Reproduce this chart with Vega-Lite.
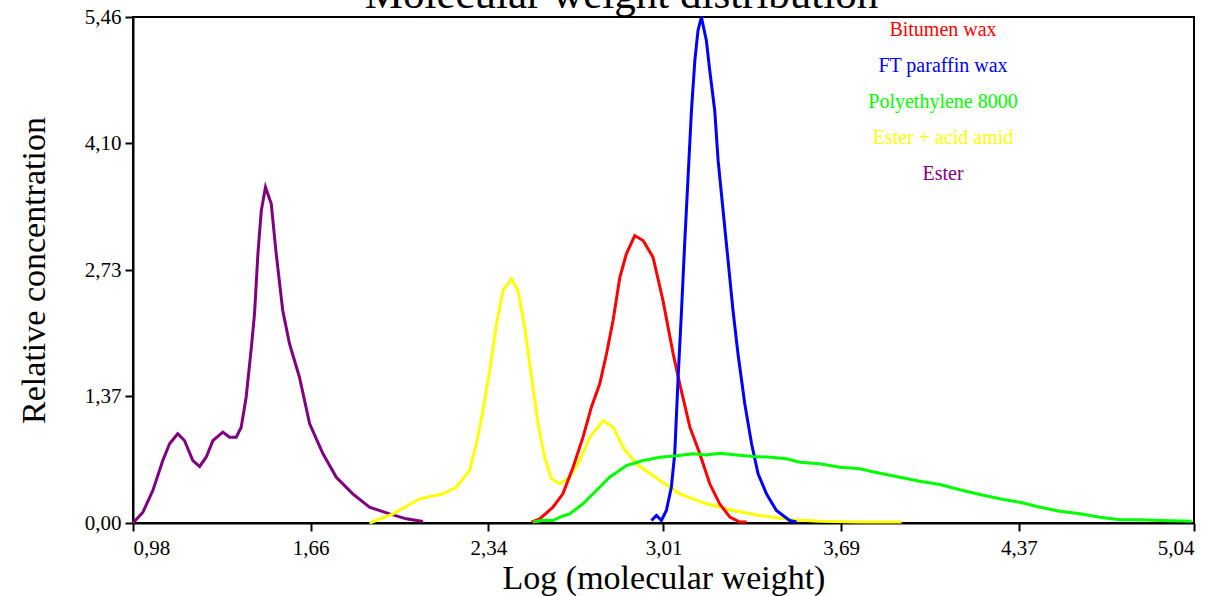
{
  "$schema": "https://vega.github.io/schema/vega-lite/v6.json",
  "autosize": {"type": "none"},
  "width": 1061,
  "height": 506,
  "padding": {"left": 133, "top": 17, "right": 33, "bottom": 73},
  "background": "white",
  "title": {
    "text": "Molecular weight distribution",
    "font": "Liberation Serif",
    "fontSize": 43,
    "fontWeight": "normal",
    "color": "black",
    "anchor": "middle",
    "baseline": "alphabetic",
    "offset": 0,
    "dy": 45,
    "dx": -42
  },
  "config": {
    "view": {"stroke": "black", "strokeWidth": 2},
    "axis": {
      "domainColor": "black",
      "domainWidth": 2,
      "tickColor": "black",
      "tickWidth": 2,
      "tickSize": 8,
      "grid": false,
      "labelFont": "Liberation Serif",
      "labelFontSize": 21,
      "labelColor": "black",
      "titleFont": "Liberation Serif",
      "titleFontSize": 34,
      "titleFontWeight": "normal",
      "titleColor": "black"
    }
  },
  "data": {
    "values": [
      {"s": "Ester", "x": 0.98, "y": 0.0},
      {"s": "Ester", "x": 1.018, "y": 0.117},
      {"s": "Ester", "x": 1.056, "y": 0.351},
      {"s": "Ester", "x": 1.094, "y": 0.674},
      {"s": "Ester", "x": 1.12, "y": 0.855},
      {"s": "Ester", "x": 1.151, "y": 0.963},
      {"s": "Ester", "x": 1.177, "y": 0.89},
      {"s": "Ester", "x": 1.209, "y": 0.674},
      {"s": "Ester", "x": 1.235, "y": 0.61},
      {"s": "Ester", "x": 1.26, "y": 0.71},
      {"s": "Ester", "x": 1.286, "y": 0.89},
      {"s": "Ester", "x": 1.324, "y": 0.98},
      {"s": "Ester", "x": 1.349, "y": 0.926},
      {"s": "Ester", "x": 1.375, "y": 0.926},
      {"s": "Ester", "x": 1.394, "y": 1.034},
      {"s": "Ester", "x": 1.413, "y": 1.357},
      {"s": "Ester", "x": 1.433, "y": 1.897},
      {"s": "Ester", "x": 1.445, "y": 2.257},
      {"s": "Ester", "x": 1.458, "y": 2.905},
      {"s": "Ester", "x": 1.471, "y": 3.372},
      {"s": "Ester", "x": 1.487, "y": 3.624},
      {"s": "Ester", "x": 1.509, "y": 3.444},
      {"s": "Ester", "x": 1.528, "y": 2.905},
      {"s": "Ester", "x": 1.553, "y": 2.293},
      {"s": "Ester", "x": 1.579, "y": 1.934},
      {"s": "Ester", "x": 1.617, "y": 1.573},
      {"s": "Ester", "x": 1.656, "y": 1.07},
      {"s": "Ester", "x": 1.707, "y": 0.747},
      {"s": "Ester", "x": 1.758, "y": 0.494},
      {"s": "Ester", "x": 1.821, "y": 0.315},
      {"s": "Ester", "x": 1.885, "y": 0.17},
      {"s": "Ester", "x": 1.962, "y": 0.099},
      {"s": "Ester", "x": 2.026, "y": 0.045},
      {"s": "Ester", "x": 2.09, "y": 0.016},
      {"s": "Ester + acid amid", "x": 1.885, "y": 0.0},
      {"s": "Ester + acid amid", "x": 1.975, "y": 0.099},
      {"s": "Ester + acid amid", "x": 2.077, "y": 0.261},
      {"s": "Ester + acid amid", "x": 2.166, "y": 0.315},
      {"s": "Ester + acid amid", "x": 2.217, "y": 0.386},
      {"s": "Ester + acid amid", "x": 2.268, "y": 0.567},
      {"s": "Ester + acid amid", "x": 2.294, "y": 0.855},
      {"s": "Ester + acid amid", "x": 2.319, "y": 1.214},
      {"s": "Ester + acid amid", "x": 2.345, "y": 1.646},
      {"s": "Ester + acid amid", "x": 2.371, "y": 2.15},
      {"s": "Ester + acid amid", "x": 2.396, "y": 2.509},
      {"s": "Ester + acid amid", "x": 2.428, "y": 2.635},
      {"s": "Ester + acid amid", "x": 2.453, "y": 2.509},
      {"s": "Ester + acid amid", "x": 2.479, "y": 2.113},
      {"s": "Ester + acid amid", "x": 2.505, "y": 1.573},
      {"s": "Ester + acid amid", "x": 2.53, "y": 1.07},
      {"s": "Ester + acid amid", "x": 2.555, "y": 0.71},
      {"s": "Ester + acid amid", "x": 2.581, "y": 0.477},
      {"s": "Ester + acid amid", "x": 2.613, "y": 0.423},
      {"s": "Ester + acid amid", "x": 2.651, "y": 0.494},
      {"s": "Ester + acid amid", "x": 2.689, "y": 0.674},
      {"s": "Ester + acid amid", "x": 2.728, "y": 0.926},
      {"s": "Ester + acid amid", "x": 2.779, "y": 1.106},
      {"s": "Ester + acid amid", "x": 2.817, "y": 1.034},
      {"s": "Ester + acid amid", "x": 2.855, "y": 0.818},
      {"s": "Ester + acid amid", "x": 2.906, "y": 0.639},
      {"s": "Ester + acid amid", "x": 2.996, "y": 0.459},
      {"s": "Ester + acid amid", "x": 3.072, "y": 0.315},
      {"s": "Ester + acid amid", "x": 3.174, "y": 0.207},
      {"s": "Ester + acid amid", "x": 3.276, "y": 0.135},
      {"s": "Ester + acid amid", "x": 3.378, "y": 0.081},
      {"s": "Ester + acid amid", "x": 3.5, "y": 0.035},
      {"s": "Ester + acid amid", "x": 3.608, "y": 0.02},
      {"s": "Ester + acid amid", "x": 3.761, "y": 0.012},
      {"s": "Ester + acid amid", "x": 3.921, "y": 0.01},
      {"s": "Bitumen wax", "x": 2.505, "y": 0.01},
      {"s": "Bitumen wax", "x": 2.536, "y": 0.045},
      {"s": "Bitumen wax", "x": 2.587, "y": 0.17},
      {"s": "Bitumen wax", "x": 2.625, "y": 0.315},
      {"s": "Bitumen wax", "x": 2.664, "y": 0.602},
      {"s": "Bitumen wax", "x": 2.702, "y": 0.926},
      {"s": "Bitumen wax", "x": 2.734, "y": 1.25},
      {"s": "Bitumen wax", "x": 2.766, "y": 1.502},
      {"s": "Bitumen wax", "x": 2.792, "y": 1.826},
      {"s": "Bitumen wax", "x": 2.817, "y": 2.185},
      {"s": "Bitumen wax", "x": 2.843, "y": 2.652},
      {"s": "Bitumen wax", "x": 2.868, "y": 2.905},
      {"s": "Bitumen wax", "x": 2.9, "y": 3.102},
      {"s": "Bitumen wax", "x": 2.932, "y": 3.048},
      {"s": "Bitumen wax", "x": 2.97, "y": 2.868},
      {"s": "Bitumen wax", "x": 3.008, "y": 2.401},
      {"s": "Bitumen wax", "x": 3.047, "y": 1.826},
      {"s": "Bitumen wax", "x": 3.072, "y": 1.502},
      {"s": "Bitumen wax", "x": 3.111, "y": 1.034},
      {"s": "Bitumen wax", "x": 3.149, "y": 0.747},
      {"s": "Bitumen wax", "x": 3.187, "y": 0.423},
      {"s": "Bitumen wax", "x": 3.225, "y": 0.207},
      {"s": "Bitumen wax", "x": 3.264, "y": 0.063},
      {"s": "Bitumen wax", "x": 3.302, "y": 0.01},
      {"s": "Bitumen wax", "x": 3.328, "y": 0.01},
      {"s": "FT paraffin wax", "x": 2.964, "y": 0.027},
      {"s": "FT paraffin wax", "x": 2.983, "y": 0.081},
      {"s": "FT paraffin wax", "x": 3.002, "y": 0.027},
      {"s": "FT paraffin wax", "x": 3.021, "y": 0.135},
      {"s": "FT paraffin wax", "x": 3.04, "y": 0.386},
      {"s": "FT paraffin wax", "x": 3.053, "y": 0.747},
      {"s": "FT paraffin wax", "x": 3.066, "y": 1.573},
      {"s": "FT paraffin wax", "x": 3.079, "y": 2.293},
      {"s": "FT paraffin wax", "x": 3.091, "y": 3.013},
      {"s": "FT paraffin wax", "x": 3.104, "y": 3.732},
      {"s": "FT paraffin wax", "x": 3.117, "y": 4.451},
      {"s": "FT paraffin wax", "x": 3.13, "y": 4.991},
      {"s": "FT paraffin wax", "x": 3.142, "y": 5.315},
      {"s": "FT paraffin wax", "x": 3.155, "y": 5.458},
      {"s": "FT paraffin wax", "x": 3.174, "y": 5.207},
      {"s": "FT paraffin wax", "x": 3.187, "y": 4.883},
      {"s": "FT paraffin wax", "x": 3.206, "y": 4.451},
      {"s": "FT paraffin wax", "x": 3.219, "y": 3.912},
      {"s": "FT paraffin wax", "x": 3.238, "y": 3.372},
      {"s": "FT paraffin wax", "x": 3.257, "y": 2.833},
      {"s": "FT paraffin wax", "x": 3.276, "y": 2.293},
      {"s": "FT paraffin wax", "x": 3.295, "y": 1.826},
      {"s": "FT paraffin wax", "x": 3.321, "y": 1.286},
      {"s": "FT paraffin wax", "x": 3.347, "y": 0.855},
      {"s": "FT paraffin wax", "x": 3.372, "y": 0.531},
      {"s": "FT paraffin wax", "x": 3.404, "y": 0.315},
      {"s": "FT paraffin wax", "x": 3.442, "y": 0.135},
      {"s": "FT paraffin wax", "x": 3.493, "y": 0.027},
      {"s": "FT paraffin wax", "x": 3.519, "y": 0.01},
      {"s": "Polyethylene 8000", "x": 2.511, "y": 0.01},
      {"s": "Polyethylene 8000", "x": 2.55, "y": 0.03},
      {"s": "Polyethylene 8000", "x": 2.587, "y": 0.027},
      {"s": "Polyethylene 8000", "x": 2.62, "y": 0.07},
      {"s": "Polyethylene 8000", "x": 2.651, "y": 0.099},
      {"s": "Polyethylene 8000", "x": 2.702, "y": 0.207},
      {"s": "Polyethylene 8000", "x": 2.753, "y": 0.351},
      {"s": "Polyethylene 8000", "x": 2.804, "y": 0.494},
      {"s": "Polyethylene 8000", "x": 2.868, "y": 0.62},
      {"s": "Polyethylene 8000", "x": 2.932, "y": 0.674},
      {"s": "Polyethylene 8000", "x": 2.996, "y": 0.71},
      {"s": "Polyethylene 8000", "x": 3.06, "y": 0.725},
      {"s": "Polyethylene 8000", "x": 3.123, "y": 0.747},
      {"s": "Polyethylene 8000", "x": 3.175, "y": 0.735},
      {"s": "Polyethylene 8000", "x": 3.225, "y": 0.753},
      {"s": "Polyethylene 8000", "x": 3.29, "y": 0.735},
      {"s": "Polyethylene 8000", "x": 3.353, "y": 0.718},
      {"s": "Polyethylene 8000", "x": 3.42, "y": 0.71},
      {"s": "Polyethylene 8000", "x": 3.481, "y": 0.693},
      {"s": "Polyethylene 8000", "x": 3.532, "y": 0.656},
      {"s": "Polyethylene 8000", "x": 3.608, "y": 0.639},
      {"s": "Polyethylene 8000", "x": 3.685, "y": 0.602},
      {"s": "Polyethylene 8000", "x": 3.761, "y": 0.585},
      {"s": "Polyethylene 8000", "x": 3.838, "y": 0.537},
      {"s": "Polyethylene 8000", "x": 3.915, "y": 0.494},
      {"s": "Polyethylene 8000", "x": 3.991, "y": 0.451},
      {"s": "Polyethylene 8000", "x": 4.068, "y": 0.415},
      {"s": "Polyethylene 8000", "x": 4.144, "y": 0.358},
      {"s": "Polyethylene 8000", "x": 4.221, "y": 0.308},
      {"s": "Polyethylene 8000", "x": 4.297, "y": 0.261},
      {"s": "Polyethylene 8000", "x": 4.374, "y": 0.224},
      {"s": "Polyethylene 8000", "x": 4.451, "y": 0.17},
      {"s": "Polyethylene 8000", "x": 4.527, "y": 0.127},
      {"s": "Polyethylene 8000", "x": 4.604, "y": 0.099},
      {"s": "Polyethylene 8000", "x": 4.68, "y": 0.063},
      {"s": "Polyethylene 8000", "x": 4.757, "y": 0.035},
      {"s": "Polyethylene 8000", "x": 4.833, "y": 0.035},
      {"s": "Polyethylene 8000", "x": 4.91, "y": 0.027},
      {"s": "Polyethylene 8000", "x": 5.031, "y": 0.019}
    ]
  },
  "mark": {"type": "line", "strokeWidth": 3, "interpolate": "linear"},
  "encoding": {
    "x": {
      "field": "x",
      "type": "quantitative",
      "scale": {"domain": [0.98, 5.04], "nice": false, "zero": false},
      "axis": {
        "title": "Log (molecular weight)",
        "values": [0.98, 1.66, 2.34, 3.01, 3.69, 4.37, 5.04],
        "labelExpr": "replace(format(datum.value, '.2f'), '.', ',')",
        "labelPadding": 6,
        "titlePadding": 3
      }
    },
    "y": {
      "field": "y",
      "type": "quantitative",
      "scale": {"domain": [0, 5.46], "nice": false},
      "axis": {
        "title": "Relative concentration",
        "values": [0, 1.37, 2.73, 4.1, 5.46],
        "labelExpr": "replace(format(datum.value, '.2f'), '.', ',')",
        "labelPadding": 4,
        "titlePadding": 33
      }
    },
    "color": {
      "field": "s",
      "type": "nominal",
      "scale": {
        "domain": ["Bitumen wax", "FT paraffin wax", "Polyethylene 8000", "Ester + acid amid", "Ester"],
        "range": ["#ff0000", "#0000ff", "#00ff00", "#ffff00", "#800080"]
      },
      "legend": {
        "orient": "none",
        "legendX": 790,
        "legendY": 3,
        "title": null,
        "symbolOpacity": 0,
        "symbolSize": 0,
        "symbolStrokeWidth": 0,
        "labelFont": "Liberation Serif",
        "labelFontSize": 20,
        "labelAlign": "center",
        "labelOffset": 0,
        "labelLimit": 0,
        "rowPadding": 16,
        "encode": {"labels": {"update": {"fill": {"scale": "color", "field": "value"}}}}
      }
    }
  }
}
